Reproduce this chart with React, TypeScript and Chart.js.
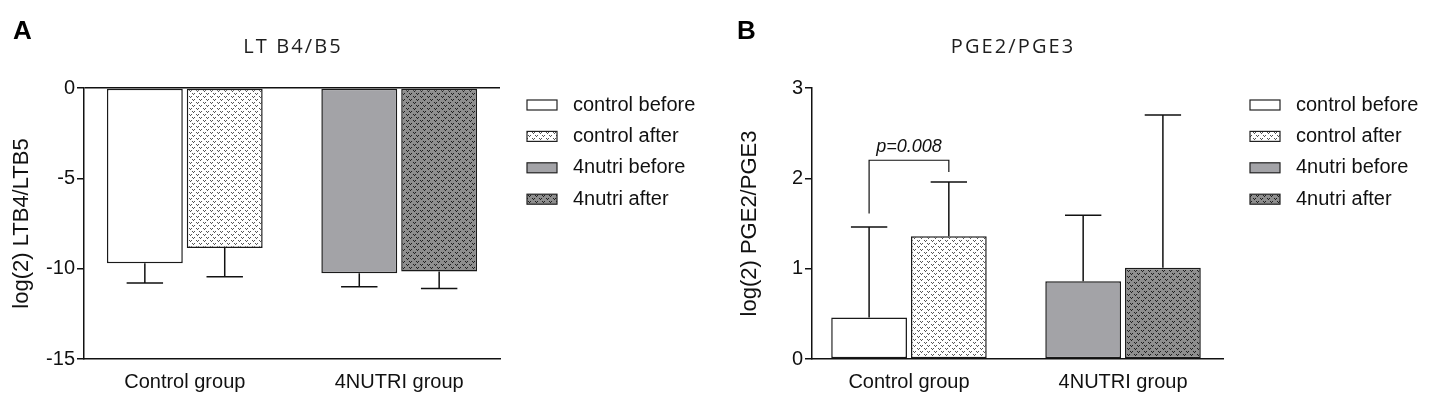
import React, { useEffect, useRef } from 'react';
import { Chart, registerables } from 'chart.js';

Chart.register(...registerables);

// ---------- data ----------
const categories = ['Control group', '4NUTRI group'];
const seriesNames = ['control before', 'control after', '4nutri before', '4nutri after'];

// Panel A: log(2) LTB4/LTB5
const ltControlBefore: (number | null)[] = [-9.7, null];
const ltControlAfter: (number | null)[] = [-8.85, null];
const lt4nutriBefore: (number | null)[] = [null, -10.25];
const lt4nutriAfter: (number | null)[] = [null, -10.15];
const ltControlBeforeErr: (number | null)[] = [1.1, null];
const ltControlAfterErr: (number | null)[] = [1.6, null];
const lt4nutriBeforeErr: (number | null)[] = [null, 0.75];
const lt4nutriAfterErr: (number | null)[] = [null, 0.95];
const ltAxis = { min: -15, max: 0, step: 5 };

// Panel B: log(2) PGE2/PGE3
const pgControlBefore: (number | null)[] = [0.46, null];
const pgControlAfter: (number | null)[] = [1.36, null];
const pg4nutriBefore: (number | null)[] = [null, 0.86];
const pg4nutriAfter: (number | null)[] = [null, 1.01];
const pgControlBeforeErr: (number | null)[] = [1.0, null];
const pgControlAfterErr: (number | null)[] = [0.6, null];
const pg4nutriBeforeErr: (number | null)[] = [null, 0.73];
const pg4nutriAfterErr: (number | null)[] = [null, 1.69];
const pgAxis = { min: 0, max: 3, step: 1 };
const pValueLabel = 'p=0.008';

const FONT = "'Liberation Sans', Arial, Helvetica, sans-serif";
Chart.defaults.font.family = FONT;
Chart.defaults.color = '#111';

function makePattern(bg: string, fg: string): CanvasPattern | string {
  const c = document.createElement('canvas');
  c.width = 7;
  c.height = 6;
  const g = c.getContext('2d');
  if (!g) return bg;
  g.fillStyle = bg;
  g.fillRect(0, 0, 7, 6);
  g.fillStyle = fg;
  const v = (x: number, y: number) => {
    g.fillRect(x, y, 1, 1);
    g.fillRect(x + 2, y, 1, 1);
    g.fillRect(x + 1, y + 1, 1, 1);
  };
  v(0, 0);
  v(3, 3);
  return g.createPattern(c, 'repeat') || bg;
}

interface PanelCfg {
  values: (number | null)[][];
  errors: (number | null)[][];
  axis: { min: number; max: number; step: number };
  yTitle: string;
  xMin: number;
  xMax: number;
  zeroLineTop: boolean;
  pValue?: string;
  width: number;
  plotRight: number;
}

function buildChart(canvas: HTMLCanvasElement, cfg: PanelCfg) {
  const fills = [
    '#ffffff',
    makePattern('#ffffff', '#555555'),
    '#a3a3a7',
    makePattern('#8e8e8e', '#1e1e1e'),
  ];

  const errorBarPlugin = {
    id: 'errorBars',
    afterDatasetsDraw(chart: any) {
      const { ctx } = chart;
      const y = chart.scales.y;
      ctx.save();
      ctx.strokeStyle = '#111';
      ctx.lineWidth = 1.5;
      cfg.values.forEach((vals, i) => {
        const meta = chart.getDatasetMeta(i);
        vals.forEach((v, j) => {
          const e = cfg.errors[i][j];
          const bar: any = meta.data[j];
          if (v == null || e == null || !bar) return;
          const end = v < 0 ? v - e : v + e;
          const yEnd = y.getPixelForValue(end);
          const half = bar.width * 0.24;
          ctx.beginPath();
          ctx.moveTo(bar.x, bar.y);
          ctx.lineTo(bar.x, yEnd);
          ctx.moveTo(bar.x - half, yEnd);
          ctx.lineTo(bar.x + half, yEnd);
          ctx.stroke();
        });
      });

      if (cfg.pValue) {
        const b0: any = chart.getDatasetMeta(0).data[0];
        const b1: any = chart.getDatasetMeta(1).data[0];
        const top0 = (cfg.values[0][0] as number) + (cfg.errors[0][0] as number);
        const top1 = (cfg.values[1][0] as number) + (cfg.errors[1][0] as number);
        const leg0 = y.getPixelForValue(top0 + 0.15);
        const leg1 = y.getPixelForValue(top1 + 0.11);
        const topY = y.getPixelForValue(Math.max(top0, top1) + 0.24);
        ctx.beginPath();
        ctx.moveTo(b0.x, leg0);
        ctx.lineTo(b0.x, topY);
        ctx.lineTo(b1.x, topY);
        ctx.lineTo(b1.x, leg1);
        ctx.lineWidth = 1.2;
        ctx.stroke();
        ctx.fillStyle = '#111';
        ctx.font = `italic 18px ${FONT}`;
        ctx.textAlign = 'center';
        ctx.textBaseline = 'alphabetic';
        ctx.fillText(cfg.pValue, (b0.x + b1.x) / 2, topY - 8);
      }
      ctx.restore();
    },
  };

  const legendPlugin = {
    id: 'sideLegend',
    afterDraw(chart: any) {
      const { ctx, chartArea } = chart;
      ctx.save();
      const bx = chartArea.right + 27;
      seriesNames.forEach((name, i) => {
        const cy = chartArea.top + 17 + i * 31.4;
        ctx.fillStyle = fills[i];
        ctx.fillRect(bx, cy - 5, 30, 10);
        ctx.strokeStyle = '#222';
        ctx.lineWidth = 1.2;
        ctx.strokeRect(bx, cy - 5, 30, 10);
        ctx.fillStyle = '#111';
        ctx.font = `20px ${FONT}`;
        ctx.textAlign = 'left';
        ctx.textBaseline = 'middle';
        ctx.fillText(name, bx + 46, cy);
      });
      ctx.restore();
    },
  };

  return new Chart(canvas, {
    type: 'bar',
    data: {
      datasets: seriesNames.map((name, i) => ({
        label: name,
        data: cfg.values[i].map((v, j) => ({ x: j, y: v })) as any,
        backgroundColor: fills[i] as any,
        borderColor: '#1a1a1a',
        borderWidth: 1.5,
        borderSkipped: false,
        barPercentage: 0.95,
        categoryPercentage: 0.745,
        skipNull: true,
      })),
    },
    options: {
      animation: false,
      responsive: false,
      events: [],
      layout: { padding: { top: 88, right: cfg.width - cfg.plotRight, bottom: 0, left: 0 } },
      plugins: { legend: { display: false }, tooltip: { enabled: false }, title: { display: false } },
      scales: {
        x: {
          type: 'linear',
          min: cfg.xMin,
          max: cfg.xMax,
          bounds: 'data',
          offset: false,
          grid: { display: false, drawTicks: false, offset: false },
          border: { display: true, color: '#111', width: 1.5 },
          afterBuildTicks: (scale: any) => {
            scale.ticks = categories.map((_, i) => ({ value: i }));
          },
          afterFit: (scale: any) => {
            scale.height = 410 - 359;
          },
          ticks: {
            autoSkip: false,
            maxRotation: 0,
            padding: 11,
            font: { size: 20 },
            color: '#111',
            callback: (value: any) => categories[value as number] ?? '',
          },
        },
        y: {
          min: cfg.axis.min,
          max: cfg.axis.max,
          afterFit: (scale: any) => {
            scale.width = 84;
          },
          ticks: { stepSize: cfg.axis.step, padding: 2, font: { size: 20 }, color: '#111' },
          grid: {
            drawOnChartArea: cfg.zeroLineTop,
            color: (c: any) => (cfg.zeroLineTop && c.tick && c.tick.value === 0 ? '#111' : 'rgba(0,0,0,0)'),
            tickColor: '#111',
            tickLength: 7,
            lineWidth: 1.5,
          },
          border: { display: true, color: '#111', width: 1.5 },
          title: {
            display: true,
            text: cfg.yTitle,
            font: { size: 22 },
            color: '#111',
            padding: { top: 9, bottom: 0 },
          },
        },
      },
    } as any,
    plugins: [errorBarPlugin, legendPlugin],
  });
}

const panelA: PanelCfg = {
  values: [ltControlBefore, ltControlAfter, lt4nutriBefore, lt4nutriAfter],
  errors: [ltControlBeforeErr, ltControlAfterErr, lt4nutriBeforeErr, lt4nutriAfterErr],
  axis: ltAxis,
  yTitle: 'log(2) LTB4/LTB5',
  xMin: -0.47,
  xMax: 1.47,
  zeroLineTop: true,
  width: 720,
  plotRight: 500,
};

const panelB: PanelCfg = {
  values: [pgControlBefore, pgControlAfter, pg4nutriBefore, pg4nutriAfter],
  errors: [pgControlBeforeErr, pgControlAfterErr, pg4nutriBeforeErr, pg4nutriAfterErr],
  axis: pgAxis,
  yTitle: 'log(2) PGE2/PGE3',
  xMin: -0.453,
  xMax: 1.467,
  zeroLineTop: false,
  pValue: pValueLabel,
  width: 706,
  plotRight: 495,
};

const letterStyle = (left: number): React.CSSProperties => ({
  position: 'absolute',
  left,
  top: 17,
  fontFamily: FONT,
  fontWeight: 'bold',
  fontSize: 26,
  lineHeight: '26px',
  color: '#000',
});

const titleStyle = (center: number): React.CSSProperties => ({
  position: 'absolute',
  left: center - 200,
  width: 400,
  top: 36,
  textAlign: 'center',
  fontFamily: "'Open Sans', 'DejaVu Sans', sans-serif",
  fontSize: 20,
  lineHeight: '20px',
  letterSpacing: '2.1px',
  paddingLeft: 2.1,
  boxSizing: 'border-box',
  color: '#1e1e1e',
});

export default function App() {
  const aRef = useRef<HTMLCanvasElement>(null);
  const bRef = useRef<HTMLCanvasElement>(null);

  useEffect(() => {
    const a = buildChart(aRef.current as HTMLCanvasElement, panelA);
    const b = buildChart(bRef.current as HTMLCanvasElement, panelB);
    return () => {
      a.destroy();
      b.destroy();
    };
  }, []);

  return (
    <div style={{ position: 'fixed', left: 0, top: 0, width: 1434, height: 410, background: '#fff', overflow: 'hidden' }}>
      <canvas ref={aRef} width={720} height={410} style={{ position: 'absolute', left: 0, top: 0, width: 720, height: 410 }} />
      <canvas ref={bRef} width={706} height={410} style={{ position: 'absolute', left: 728, top: 0, width: 706, height: 410 }} />
      <div style={letterStyle(13)}>A</div>
      <div style={letterStyle(737)}>B</div>
      <div style={titleStyle(292)}>LT B4/B5</div>
      <div style={titleStyle(1012)}>PGE2/PGE3</div>
    </div>
  );
}
